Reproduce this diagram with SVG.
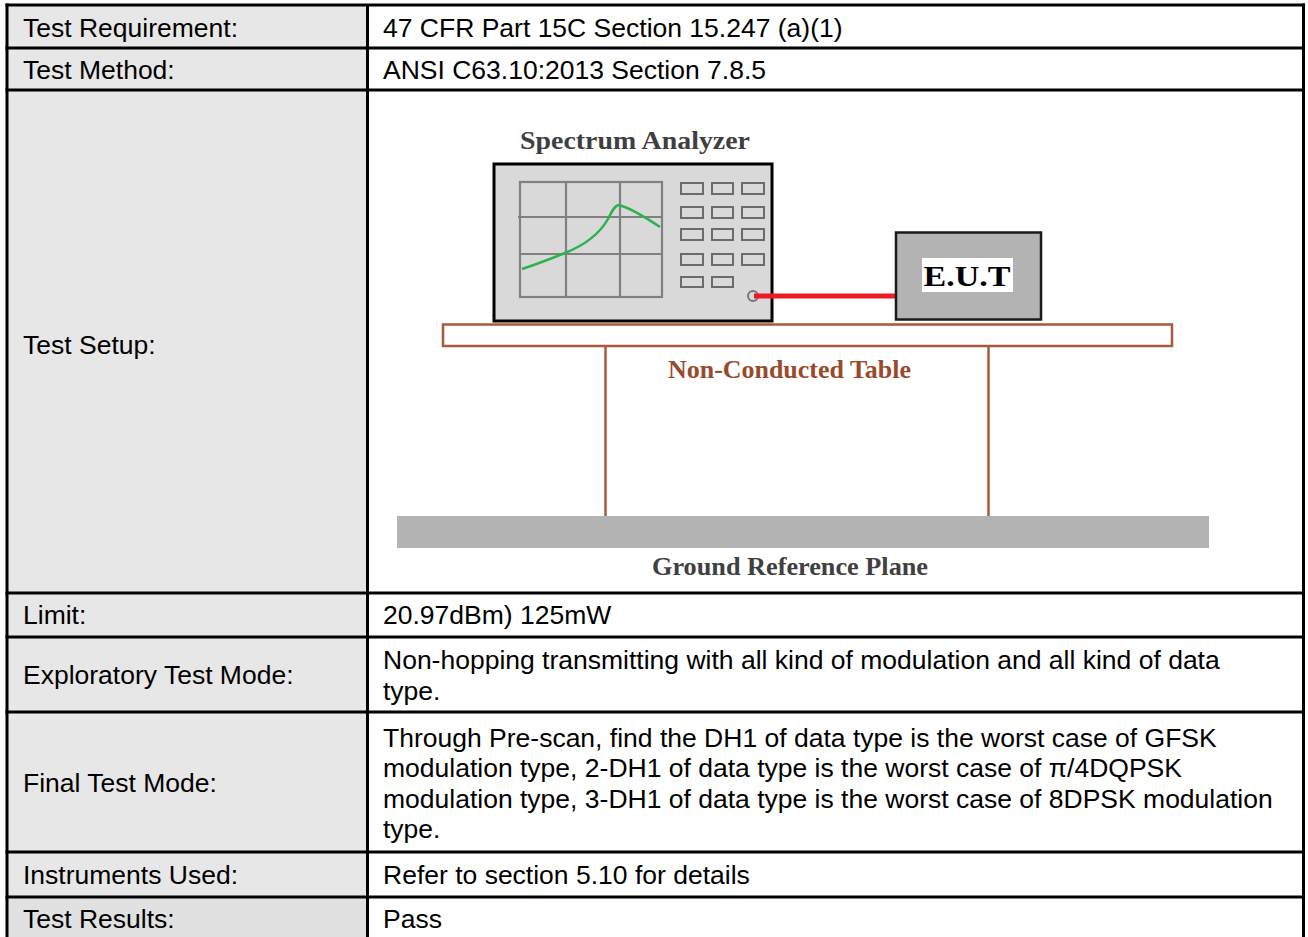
<svg xmlns="http://www.w3.org/2000/svg" width="1308" height="937" viewBox="0 0 1308 937">
<style>
.lbl{font-family:"Liberation Sans",Arial,sans-serif;font-size:26.5px;fill:#000}
.grid{stroke:#808080;stroke-width:2.2;fill:none}
.btn{fill:#d9d9d9;stroke:#6b6b6b;stroke-width:2}
.tb{stroke:#a85a3a;stroke-width:2.5}
.ser{font-family:"Liberation Serif","Times New Roman",serif;font-weight:bold}
</style>
<rect x="0" y="0" width="1308" height="937" fill="#fff"/>
<g id="table">
<rect x="7" y="5" width="360.5" height="932" fill="#e7e7e7"/>
<rect x="7" y="897" width="360.5" height="40" fill="#e1e1e1"/>
<g stroke="#000" stroke-width="3" fill="none">
<line x1="7" y1="3.5" x2="7" y2="937"/>
<line x1="367.5" y1="5" x2="367.5" y2="937"/>
<line x1="1303.5" y1="3.5" x2="1303.5" y2="937"/>
<line x1="5.5" y1="5" x2="1305" y2="5"/>
<line x1="5.5" y1="48" x2="1305" y2="48"/>
<line x1="5.5" y1="90" x2="1305" y2="90"/>
<line x1="5.5" y1="593" x2="1305" y2="593"/>
<line x1="5.5" y1="637" x2="1305" y2="637"/>
<line x1="5.5" y1="712" x2="1305" y2="712"/>
<line x1="5.5" y1="852" x2="1305" y2="852"/>
<line x1="5.5" y1="897" x2="1305" y2="897"/>
</g>
<text class="lbl" x="23" y="37">Test Requirement:</text>
<text class="lbl" x="383" y="37">47 CFR Part 15C Section 15.247 (a)(1)</text>
<text class="lbl" x="23" y="79">Test Method:</text>
<text class="lbl" x="383" y="79">ANSI C63.10:2013 Section 7.8.5</text>
<text class="lbl" x="23" y="354">Test Setup:</text>
<text class="lbl" x="23" y="624">Limit:</text>
<text class="lbl" x="383" y="624">20.97dBm) 125mW</text>
<text class="lbl" x="23" y="684">Exploratory Test Mode:</text>
<text class="lbl" x="383" y="669">Non-hopping transmitting with all kind of modulation and all kind of data</text>
<text class="lbl" x="383" y="699.5">type.</text>
<text class="lbl" x="23" y="792">Final Test Mode:</text>
<text class="lbl" x="383" y="746.5">Through Pre-scan, find the DH1 of data type is the worst case of GFSK</text>
<text class="lbl" x="383" y="777">modulation type, 2-DH1 of data type is the worst case of π/4DQPSK</text>
<text class="lbl" x="383" y="807.5">modulation type, 3-DH1 of data type is the worst case of 8DPSK modulation</text>
<text class="lbl" x="383" y="838">type.</text>
<text class="lbl" x="23" y="884">Instruments Used:</text>
<text class="lbl" x="383" y="884">Refer to section 5.10 for details</text>
<text class="lbl" x="23" y="928">Test Results:</text>
<text class="lbl" x="383" y="928">Pass</text>
</g>
<g id="ground-plane">
<rect x="397" y="516" width="812" height="32" fill="#b3b3b3"/>
<text class="ser" x="790" y="575" font-size="25" fill="#404040" text-anchor="middle" textLength="276" lengthAdjust="spacingAndGlyphs">Ground Reference Plane</text>
</g>
<g id="table-furniture">
<rect class="tb" x="443" y="324.5" width="729" height="21.5" fill="#fff"/>
<line class="tb" x1="605.5" y1="346" x2="605.5" y2="516"/>
<line class="tb" x1="988.5" y1="346" x2="988.5" y2="516"/>
<text class="ser" x="789.5" y="378" font-size="25" fill="#9a4a2c" text-anchor="middle" textLength="243" lengthAdjust="spacingAndGlyphs">Non-Conducted Table</text>
</g>
<g id="spectrum-analyzer">
<text class="ser" x="635" y="149" font-size="26" fill="#3f3f3f" text-anchor="middle" textLength="230" lengthAdjust="spacingAndGlyphs">Spectrum Analyzer</text>
<rect x="494" y="164" width="278" height="157" fill="#d9d9d9" stroke="#000" stroke-width="3"/>
<rect class="grid" x="520" y="182" width="142" height="115"/>
<line class="grid" x1="566" y1="182" x2="566" y2="297"/>
<line class="grid" x1="620" y1="182" x2="620" y2="297"/>
<line class="grid" x1="518" y1="217" x2="662" y2="217"/>
<line class="grid" x1="520" y1="254" x2="662" y2="254"/>
<path d="M522 269 C540 263 555 257 565 253 C585 245 600 233 608 219 C612 211 615 205 619 205 C630 208 648 219 660 227" fill="none" stroke="#2bb24c" stroke-width="2.5"/>
<rect class="btn" x="681" y="183" width="22" height="11"/>
<rect class="btn" x="712" y="183" width="21" height="11"/>
<rect class="btn" x="742" y="183" width="22" height="11"/>
<rect class="btn" x="681" y="207" width="22" height="11"/>
<rect class="btn" x="712" y="207" width="21" height="11"/>
<rect class="btn" x="742" y="207" width="22" height="11"/>
<rect class="btn" x="681" y="229" width="22" height="11"/>
<rect class="btn" x="712" y="229" width="21" height="11"/>
<rect class="btn" x="742" y="229" width="22" height="11"/>
<rect class="btn" x="681" y="254" width="22" height="11"/>
<rect class="btn" x="712" y="254" width="21" height="11"/>
<rect class="btn" x="742" y="254" width="22" height="11"/>
<rect class="btn" x="681" y="277" width="22" height="10"/>
<rect class="btn" x="712" y="277" width="21" height="10"/>
<circle cx="753" cy="296" r="5" fill="#d9d9d9" stroke="#777" stroke-width="2"/>
</g>
<g id="connectors">
<line x1="754" y1="296" x2="896" y2="296" stroke="#ed1c24" stroke-width="5"/>
</g>
<g id="eut">
<rect x="896" y="232.5" width="145" height="87" fill="#b3b3b3" stroke="#1a1a1a" stroke-width="2.5"/>
<rect x="922" y="258" width="91" height="34" fill="#fff"/>
<text class="ser" x="967" y="286" font-size="29" fill="#000" text-anchor="middle" textLength="87" lengthAdjust="spacingAndGlyphs">E.U.T</text>
</g>
</svg>
